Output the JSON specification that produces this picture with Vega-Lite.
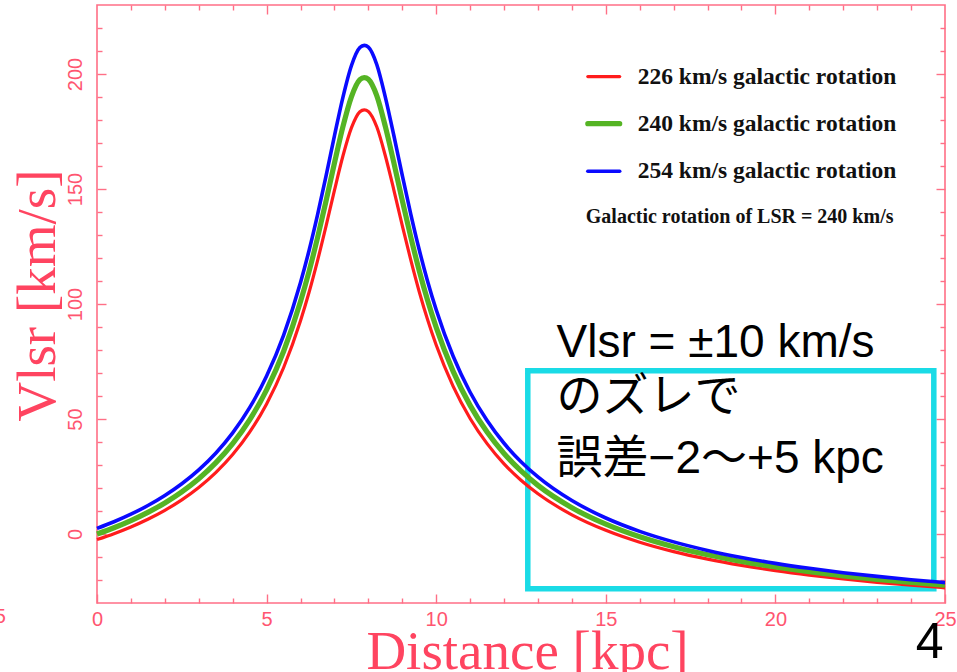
{
  "$schema": "https://vega.github.io/schema/vega-lite/v6.json",
  "width": 848,
  "height": 598,
  "autosize": "none",
  "padding": {"left": 97, "top": 5, "right": 12, "bottom": 69},
  "background": "white",
  "config": {
    "view": {"stroke": "#ff6f86", "strokeWidth": 1.6},
    "axis": {
      "domain": false,
      "grid": false,
      "tickColor": "#ff6f86",
      "tickWidth": 1.4,
      "labelColor": "#ff5570",
      "labelFont": "Liberation Sans Narrow, Liberation Sans",
      "labelFontSize": 20,
      "titleColor": "#ff4460",
      "titleFont": "Liberation Serif",
      "titleFontWeight": "normal",
      "titleFontSize": 55
    }
  },
  "datasets": {
    "curves": [
      {"d": 0, "226": -2.43, "240": 0.0, "254": 2.43},
      {"d": 0.5, "226": 0.14, "240": 2.73, "254": 5.32},
      {"d": 1, "226": 3.07, "240": 5.84, "254": 8.61},
      {"d": 1.5, "226": 6.42, "240": 9.4, "254": 12.38},
      {"d": 2, "226": 10.3, "240": 13.52, "254": 16.74},
      {"d": 2.5, "226": 14.84, "240": 18.34, "254": 21.85},
      {"d": 3, "226": 20.22, "240": 24.06, "254": 27.89},
      {"d": 3.5, "226": 26.67, "240": 30.9, "254": 35.13},
      {"d": 4, "226": 34.53, "240": 39.25, "254": 43.97},
      {"d": 4.5, "226": 44.27, "240": 49.59, "254": 54.92},
      {"d": 5, "226": 56.56, "240": 62.65, "254": 68.73},
      {"d": 5.5, "226": 72.29, "240": 79.34, "254": 86.4},
      {"d": 6, "226": 92.73, "240": 101.05, "254": 109.38},
      {"d": 6.25, "226": 104.99, "240": 114.07, "254": 123.16},
      {"d": 6.5, "226": 118.76, "240": 128.69, "254": 138.63},
      {"d": 6.75, "226": 133.76, "240": 144.63, "254": 155.5},
      {"d": 7, "226": 149.41, "240": 161.25, "254": 173.09},
      {"d": 7.25, "226": 164.34, "240": 177.1, "254": 189.86},
      {"d": 7.5, "226": 176.55, "240": 190.07, "254": 203.59},
      {"d": 7.75, "226": 183.6, "240": 197.55, "254": 211.5},
      {"d": 7.88, "226": 184.44, "240": 198.45, "254": 212.45},
      {"d": 8, "226": 183.74, "240": 197.71, "254": 211.67},
      {"d": 8.25, "226": 176.94, "240": 190.48, "254": 204.03},
      {"d": 8.5, "226": 164.44, "240": 177.21, "254": 189.98},
      {"d": 8.75, "226": 149.66, "240": 161.51, "254": 173.37},
      {"d": 9, "226": 134.11, "240": 145.0, "254": 155.89},
      {"d": 9.25, "226": 119.17, "240": 129.14, "254": 139.1},
      {"d": 9.5, "226": 105.35, "240": 114.46, "254": 123.57},
      {"d": 9.75, "226": 93.03, "240": 101.37, "254": 109.71},
      {"d": 10, "226": 82.14, "240": 89.81, "254": 97.48},
      {"d": 10.5, "226": 64.16, "240": 70.72, "254": 77.27},
      {"d": 11, "226": 50.23, "240": 55.92, "254": 61.62},
      {"d": 11.5, "226": 39.28, "240": 44.3, "254": 49.32},
      {"d": 12, "226": 30.5, "240": 34.98, "254": 39.45},
      {"d": 12.5, "226": 23.38, "240": 27.41, "254": 31.44},
      {"d": 13, "226": 17.49, "240": 21.15, "254": 24.82},
      {"d": 14, "226": 8.34, "240": 11.44, "254": 14.54},
      {"d": 15, "226": 1.6, "240": 4.28, "254": 6.96},
      {"d": 16, "226": -3.57, "240": -1.21, "254": 1.15},
      {"d": 17, "226": -7.65, "240": -5.54, "254": -3.43},
      {"d": 18, "226": -10.94, "240": -9.04, "254": -7.14},
      {"d": 19, "226": -13.66, "240": -11.93, "254": -10.19},
      {"d": 20, "226": -15.94, "240": -14.35, "254": -12.76},
      {"d": 21, "226": -17.88, "240": -16.41, "254": -14.93},
      {"d": 22, "226": -19.55, "240": -18.18, "254": -16.81},
      {"d": 23, "226": -21.0, "240": -19.72, "254": -18.44},
      {"d": 24, "226": -22.27, "240": -21.07, "254": -19.87},
      {"d": 25, "226": -23.4, "240": -22.27, "254": -21.14}
    ],
    "legend": [
      {"key": "226", "label": "226 km/s galactic rotation", "d1": 14.47, "d2": 15.41, "v": 198.9, "tx": 15.94},
      {"key": "240", "label": "240 km/s galactic rotation", "d1": 14.47, "d2": 15.41, "v": 178.4, "tx": 15.94},
      {"key": "254", "label": "254 km/s galactic rotation", "d1": 14.47, "d2": 15.41, "v": 157.7, "tx": 15.94}
    ],
    "box": [
      {"d1": 12.7, "d2": 24.67, "v1": 71.0, "v2": -23.8}
    ],
    "remark": [
      {"d": 13.55, "v": 77.1, "text": "Vlsr = ±10 km/s"},
      {"d": 13.55, "v": 53.6, "text": "のズレで"},
      {"d": 13.55, "v": 26.6, "text": "誤差−2〜+5 kpc"}
    ],
    "note": [
      {"d": 14.41, "v": 137.9, "text": "Galactic rotation of LSR = 240 km/s"}
    ],
    "page": [
      {"d": 24.55, "v": -53.8, "text": "4"}
    ],
    "stray": [
      {"d": -2.85, "v": -36, "text": "5"}
    ]
  },
  "resolve": {"axis": {"x": "independent", "y": "independent"}},
  "layer": [
    {
      "data": {"name": "box"},
      "mark": {"type": "rect", "filled": false, "stroke": "#1adbe6", "strokeWidth": 5.5},
      "encoding": {
        "x": {
          "field": "d1", "type": "quantitative",
          "scale": {"domain": [0, 25], "nice": false, "zero": false},
          "axis": {
            "orient": "top",
            "values": [1, 2, 3, 4, 5, 6, 7, 8, 9, 10, 11, 12, 13, 14, 15, 16, 17, 18, 19, 20, 21, 22, 23, 24],
            "tickSize": {"condition": {"test": "datum.value % 5 === 0", "value": -9}, "value": -5},
            "labels": false,
            "title": null
          }
        },
        "x2": {"field": "d2"},
        "y": {
          "field": "v1", "type": "quantitative",
          "scale": {"domain": [-30, 230], "nice": false, "zero": false},
          "axis": {
            "orient": "right",
            "values": [-20, -10, 0, 10, 20, 30, 40, 50, 60, 70, 80, 90, 100, 110, 120, 130, 140, 150, 160, 170, 180, 190, 200, 210, 220],
            "tickSize": {"condition": {"test": "datum.value % 50 === 0", "value": -9}, "value": -5},
            "labels": false,
            "title": null
          }
        },
        "y2": {"field": "v2"}
      }
    },
    {
      "data": {"name": "curves"},
      "transform": [{"fold": ["226", "240", "254"], "as": ["key", "value"]}],
      "mark": {"type": "line", "interpolate": "monotone"},
      "encoding": {
        "x": {
          "field": "d", "type": "quantitative",
          "scale": {"domain": [0, 25], "nice": false, "zero": false},
          "axis": {
            "orient": "bottom",
            "values": [0, 1, 2, 3, 4, 5, 6, 7, 8, 9, 10, 11, 12, 13, 14, 15, 16, 17, 18, 19, 20, 21, 22, 23, 24, 25],
            "tickSize": {"condition": {"test": "datum.value % 5 === 0", "value": -9}, "value": -5},
            "labelExpr": "datum.value % 5 === 0 ? datum.label : ''",
            "labelPadding": 15,
            "labelFlush": false,
            "labelOverlap": false,
            "labelBound": false,
            "title": "Distance [kpc]",
            "titleX": 430,
            "titleY": 65,
            "titleAlign": "center",
            "titleBaseline": "alphabetic"
          }
        },
        "y": {
          "field": "value", "type": "quantitative",
          "scale": {"domain": [-30, 230], "nice": false, "zero": false},
          "axis": {
            "orient": "left",
            "values": [-20, -10, 0, 10, 20, 30, 40, 50, 60, 70, 80, 90, 100, 110, 120, 130, 140, 150, 160, 170, 180, 190, 200, 210, 220],
            "tickSize": {"condition": {"test": "datum.value % 50 === 0", "value": -9}, "value": -5},
            "labelExpr": "datum.value % 50 === 0 ? datum.label : ''",
            "labelAngle": 270,
            "labelAlign": "center",
            "labelBaseline": "middle",
            "labelPadding": 31,
            "labelOverlap": false,
            "labelBound": false,
            "labelFlush": false,
            "title": "Vlsr [km/s]",
            "titleAngle": 270,
            "titleX": -60,
            "titleY": 290,
            "titleAlign": "center",
            "titleBaseline": "middle"
          }
        },
        "color": {
          "field": "key", "type": "nominal",
          "scale": {"domain": ["226", "240", "254"], "range": ["#ff1c1c", "#55b424", "#0a0aff"]},
          "legend": null
        },
        "strokeWidth": {
          "field": "key", "type": "nominal",
          "scale": {"type": "ordinal", "domain": ["226", "240", "254"], "range": [3.2, 5.2, 3.6]},
          "legend": null
        }
      }
    },
    {
      "data": {"name": "legend"},
      "mark": {"type": "rule", "strokeCap": "round"},
      "encoding": {
        "x": {"field": "d1", "type": "quantitative", "axis": null},
        "x2": {"field": "d2"},
        "y": {"field": "v", "type": "quantitative", "axis": null},
        "color": {"field": "key", "type": "nominal", "legend": null},
        "strokeWidth": {
          "field": "key", "type": "nominal",
          "scale": {"type": "ordinal", "domain": ["226", "240", "254"], "range": [3.2, 5.2, 3.6]},
          "legend": null
        }
      }
    },
    {
      "data": {"name": "legend"},
      "mark": {"type": "text", "align": "left", "baseline": "middle", "font": "Liberation Serif", "fontWeight": "bold", "fontSize": 23.5, "color": "#111111"},
      "encoding": {
        "x": {"field": "tx", "type": "quantitative", "axis": null},
        "y": {"field": "v", "type": "quantitative", "axis": null},
        "text": {"field": "label"}
      }
    },
    {
      "data": {"name": "note"},
      "mark": {"type": "text", "align": "left", "baseline": "middle", "font": "Liberation Serif", "fontWeight": "bold", "fontSize": 20, "color": "#111111"},
      "encoding": {
        "x": {"field": "d", "type": "quantitative", "axis": null},
        "y": {"field": "v", "type": "quantitative", "axis": null},
        "text": {"field": "text"}
      }
    },
    {
      "data": {"name": "remark"},
      "mark": {"type": "text", "align": "left", "baseline": "alphabetic", "font": "Liberation Sans, Noto Sans CJK JP", "fontSize": 46, "color": "#000000"},
      "encoding": {
        "x": {"field": "d", "type": "quantitative", "axis": null},
        "y": {"field": "v", "type": "quantitative", "axis": null},
        "text": {"field": "text"}
      }
    },
    {
      "data": {"name": "page"},
      "mark": {"type": "text", "align": "center", "baseline": "alphabetic", "font": "Liberation Sans", "fontSize": 50, "color": "#000000"},
      "encoding": {
        "x": {"field": "d", "type": "quantitative", "axis": null},
        "y": {"field": "v", "type": "quantitative", "axis": null},
        "text": {"field": "text"}
      }
    },
    {
      "data": {"name": "stray"},
      "mark": {"type": "text", "align": "center", "baseline": "middle", "font": "Liberation Sans Narrow, Liberation Sans", "fontSize": 20, "color": "#ff5570"},
      "encoding": {
        "x": {"field": "d", "type": "quantitative", "axis": null},
        "y": {"field": "v", "type": "quantitative", "axis": null},
        "text": {"field": "text"}
      }
    }
  ]
}
